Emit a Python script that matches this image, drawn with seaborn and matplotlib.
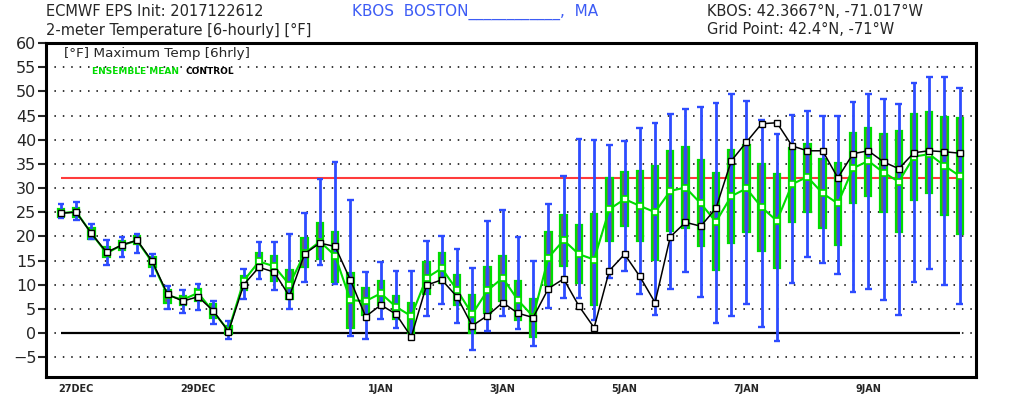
import numpy as np
import pandas as pd
import seaborn as sns
import matplotlib
matplotlib.use('Agg')
import matplotlib.pyplot as plt
import matplotlib.dates as mdates

# ensemble statistics, 6-hourly from 2017-12-26 18Z
wmin = [23.7, 23.4, 19.4, 14.1, 15.7, 16.5, 11.7, 5.0, 4.1, 4.8,
        1.9, -1.2, 7.1, 11.2, 8.8, 5.0, 10.6, 14.0, 10.2, -0.6,
        -1.2, 2.8, 1.1, -0.8, 3.5, 6.0, 2.1, -3.5, 0.5, 3.5,
        0.8, -2.7, 5.1, 7.3, 7.2, 2.7, 11.4, 12.9, 8.0, 3.7,
        9.1, 12.6, 7.5, 2.1, 3.6, 5.9, 1.2, -1.6, 10.3, 15.8,
        14.4, 12.3, 8.5, 9.2, 6.8, 3.7, 10.5, 13.3, 9.9, 6.0]
wmax = [26.7, 27.2, 22.6, 19.2, 19.8, 20.5, 16.3, 9.7, 9.0, 10.1,
        6.6, 2.4, 13.3, 18.8, 18.8, 20.5, 24.8, 31.9, 35.4, 27.5,
        12.7, 14.6, 12.9, 12.8, 19.1, 20.1, 17.4, 13.5, 23.2, 25.4,
        19.9, 15.0, 26.7, 32.5, 40.1, 39.9, 38.9, 39.8, 42.5, 43.5,
        45.4, 46.3, 46.8, 47.5, 49.5, 47.9, 44.0, 41.1, 45.1, 45.9,
        45.0, 45.0, 47.7, 49.5, 48.4, 47.3, 51.7, 53.0, 52.9, 50.6]
box_lo = [24.1, 24.1, 19.5, 15.7, 17.2, 18.4, 13.6, 6.2, 5.7, 6.7,
          3.1, -0.2, 9.0, 13.1, 10.8, 7.1, 13.7, 15.3, 10.6, 1.0,
          3.7, 5.7, 3.0, 0.1, 8.1, 10.4, 5.7, 0.1, 4.1, 6.7,
          2.7, -0.8, 9.9, 13.9, 10.3, 5.7, 19.0, 22.1, 19.0, 15.2,
          21.2, 21.7, 17.9, 13.0, 18.7, 20.8, 16.9, 13.4, 23.0, 25.1,
          21.8, 18.3, 26.8, 28.3, 25.1, 21.0, 27.5, 29.0, 24.4, 20.4]
box_hi = [25.7, 25.8, 21.7, 17.7, 19.1, 20.1, 15.7, 8.9, 7.7, 9.2,
          5.9, 1.4, 11.7, 16.6, 16.0, 13.1, 19.7, 22.8, 20.8, 12.5,
          9.4, 10.8, 7.7, 6.3, 14.7, 16.5, 12.1, 7.9, 13.6, 15.9,
          10.8, 7.0, 21.0, 24.4, 22.3, 24.6, 32.0, 33.4, 33.5, 34.6,
          37.7, 38.4, 35.8, 33.2, 37.9, 38.9, 35.0, 32.8, 38.3, 39.2,
          36.0, 35.1, 41.3, 42.5, 41.2, 41.7, 45.3, 45.7, 44.6, 44.4]
ens_mean = [24.8, 25.1, 20.6, 16.5, 18.2, 19.1, 14.6, 7.8, 6.9, 8.3,
            4.4, 0.5, 10.8, 14.8, 13.8, 10.0, 16.5, 18.9, 16.0, 6.8,
            6.6, 8.2, 5.4, 3.5, 11.4, 13.4, 8.9, 3.9, 8.8, 11.4,
            6.8, 3.4, 15.6, 19.2, 16.3, 15.2, 25.6, 27.7, 26.3, 25.0,
            29.4, 30.1, 26.8, 23.0, 28.3, 29.9, 26.0, 23.2, 30.8, 32.3,
            28.9, 26.8, 34.1, 35.6, 33.2, 31.3, 36.5, 37.0, 34.6, 32.5]
control = [24.8, 25.0, 20.6, 16.7, 18.2, 19.2, 14.8, 8.0, 6.6, 7.5,
           4.6, 0.3, 10.0, 13.6, 12.6, 7.6, 16.4, 18.6, 17.9, 11.0,
           3.4, 5.8, 3.9, -0.8, 9.9, 11.0, 7.5, 1.5, 3.6, 6.3,
           4.1, 3.2, 9.2, 11.2, 5.6, 1.1, 12.9, 16.3, 11.7, 6.3,
           19.9, 22.9, 22.1, 25.8, 35.6, 39.5, 43.3, 43.5, 38.7, 37.7,
           37.7, 32.1, 37.1, 37.7, 35.4, 34.0, 37.3, 37.7, 37.5, 37.2]

tick_days = ['2017-12-27', '2017-12-29', '2018-01-01', '2018-01-03',
             '2018-01-05', '2018-01-07', '2018-01-09']
tick_labels = ['27DEC', '29DEC', '1JAN', '3JAN', '5JAN', '7JAN', '9JAN']
freezing = 32

times = pd.date_range('2017-12-26 18:00', periods=len(ens_mean), freq='6h')
df = pd.DataFrame({'t': mdates.date2num(times), 'wmin': wmin, 'wmax': wmax,
                   'lo': box_lo, 'hi': box_hi, 'mean': ens_mean, 'ctrl': control})

sns.set_style('white')
plt.rcParams['font.family'] = ['DejaVu Sans']

GREEN = '#00dc00'
BLUE = '#2d4cff'

fig = plt.figure(figsize=(10.22, 3.98), dpi=100)
ax = fig.add_axes([46 / 1022, 1 - 377 / 398, 930 / 1022, 334 / 398])

step = 0.25  # 6 hours in days
ax.set_xlim(df.t.iloc[0] - 0.98 * step, df.t.iloc[-1] + 1.07 * step)
ax.set_ylim(-9.1, 60)

# dotted grid
for yv in range(-5, 60, 5):
    ax.axhline(yv, color='black', lw=1.1, ls=(0, (1, 4.5)), zorder=0)
ax.hlines(0, df.t.iloc[0], df.t.iloc[-1], color='black', lw=1.6, zorder=1)
ax.hlines(freezing, df.t.iloc[0], df.t.iloc[-1], color='#ff3b3b', lw=1.5, zorder=1)

# boxes
ax.bar(df.t, df.hi - df.lo, bottom=df.lo, width=0.42 * step,
       color='#6a6a6a', edgecolor=GREEN, linewidth=1.6, zorder=2)
# whiskers
ax.vlines(df.t, df.wmin, df.wmax, color=BLUE, lw=2.0, zorder=3)
cap = 0.22 * step
ax.hlines(df.wmin, df.t - cap, df.t + cap, color=BLUE, lw=1.7, zorder=3)
ax.hlines(df.wmax, df.t - cap, df.t + cap, color=BLUE, lw=1.7, zorder=3)

sns.lineplot(data=df, x='t', y='mean', ax=ax, color=GREEN, lw=1.5,
             marker='s', markersize=4.0, markerfacecolor='white',
             markeredgecolor=GREEN, markeredgewidth=1.2, zorder=4)
sns.lineplot(data=df, x='t', y='ctrl', ax=ax, color='black', lw=1.1,
             marker='s', markersize=4.0, markerfacecolor='white',
             markeredgecolor='black', markeredgewidth=1.0, zorder=5)

ax.set_xlabel('')
ax.set_ylabel('')
ax.set_xticks(mdates.date2num(pd.to_datetime(tick_days)))
ax.set_xticklabels(tick_labels, fontsize=7, fontweight='bold')
ax.tick_params(axis='x', length=0, pad=5)
ax.set_yticks(range(-5, 61, 5))
ax.set_yticklabels([str(v).replace('-', '\u2212') for v in range(-5, 61, 5)], fontsize=11.5)
ax.tick_params(axis='y', length=6, width=1.5, pad=1, left=True, direction='out')
for s in ax.spines.values():
    s.set_linewidth(2.2)
    s.set_color('black')

# header texts
fig.text(46 / 1022, 1 - 12 / 398, 'ECMWF EPS Init: 2017122612', fontsize=10.5, va='center')
fig.text(46 / 1022, 1 - 30 / 398, '2-meter Temperature [6-hourly] [\u00b0F]', fontsize=10.5, va='center')
fig.text(352 / 1022, 1 - 12 / 398, 'KBOS  BOSTON____________,  MA', fontsize=11,
         va='center', color='#3d5cf5')
fig.text(707 / 1022, 1 - 12 / 398, 'KBOS: 42.3667\u00b0N, -71.017\u00b0W', fontsize=10.5, va='center')
fig.text(707 / 1022, 1 - 30 / 398, 'Grid Point: 42.4\u00b0N, -71\u00b0W', fontsize=10.5, va='center')

fig.text(64 / 1022, 1 - 53 / 398, '[\u00b0F] Maximum Temp [6hrly]', fontsize=9.7, va='center')
fig.text(92 / 1022, 1 - 71 / 398, 'ENSEMBLE MEAN', fontsize=6.5, fontweight='bold',
         color=GREEN, va='center')
fig.text(185 / 1022, 1 - 71 / 398, 'CONTROL', fontsize=6.5, fontweight='bold',
         color='black', va='center')

fig.savefig('out.png', dpi=100)
